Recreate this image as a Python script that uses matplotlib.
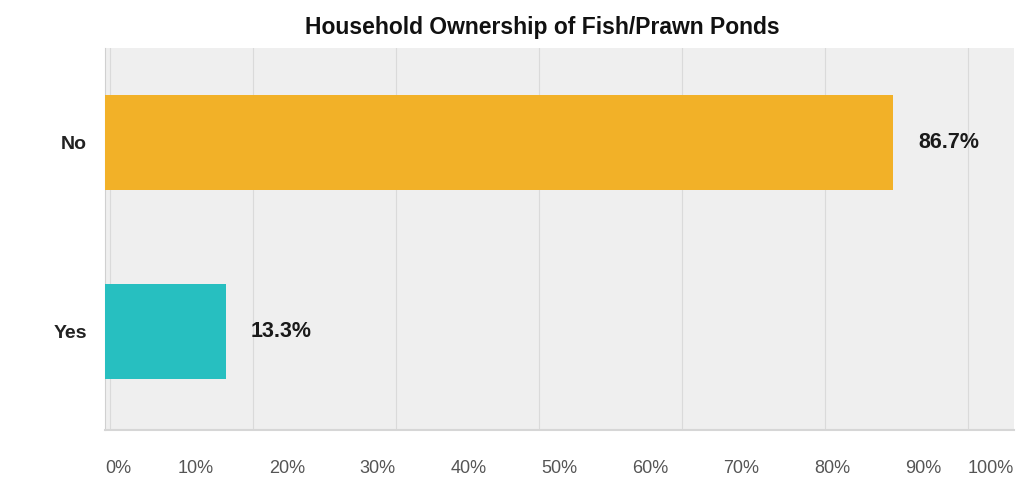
import numpy as np
import matplotlib.pyplot as plt

categories = ['Yes', 'No']
percents = [13.3, 86.7]
bar_colors = ['#27bfc0', '#f2b128']
tick_values = [0, 10, 20, 30, 40, 50, 60, 70, 80, 90, 100]

plt.rcParams['font.family'] = ['Liberation Sans', 'DejaVu Sans']

fig = plt.figure(figsize=(10.19, 4.93), dpi=100)
ax = fig.add_axes([0.103, 0.128, 0.892, 0.775])
ax.set_facecolor('#efefef')

y = np.arange(len(categories))
ax.barh(y, percents, height=0.5, color=bar_colors, zorder=3)

# faint vertical grid bands, not aligned with tick labels in the original
for gx in np.arange(0.5, 100, 15.75):
    ax.axvline(gx, color='#dadada', lw=0.8, zorder=1)

for yi, p in zip(y, percents):
    ax.annotate(f'{p}%', (p, yi), xytext=(25, 0), textcoords='offset pixels',
                va='center', ha='left', fontsize=15.5, fontweight='bold', color='#1a1a1a')

ax.set_xlim(0, 100)
ax.set_ylim(-0.52, 1.5)
ax.set_yticks(y)
ax.set_yticklabels(categories, fontsize=14, fontweight='bold', color='#222222')
ax.set_xticks(tick_values)
ax.set_xticklabels([f'{t}%' for t in tick_values], fontsize=13, color='#555555')
labels = ax.get_xticklabels()
labels[0].set_ha('left')
labels[-1].set_ha('right')
ax.tick_params(axis='x', length=0, pad=22)
ax.tick_params(axis='y', length=0, pad=13)

for side in ['top', 'right']:
    ax.spines[side].set_visible(False)
ax.spines['left'].set_color('#d0d0d0')
ax.spines['bottom'].set_color('#d6d6d6')
ax.spines['bottom'].set_linewidth(1.5)

fig.text(0.532, 0.945, 'Household Ownership of Fish/Prawn Ponds', ha='center', va='center',
         fontsize=16.5, fontweight='bold', color='#111111')

plt.savefig('out.png', dpi=100)
